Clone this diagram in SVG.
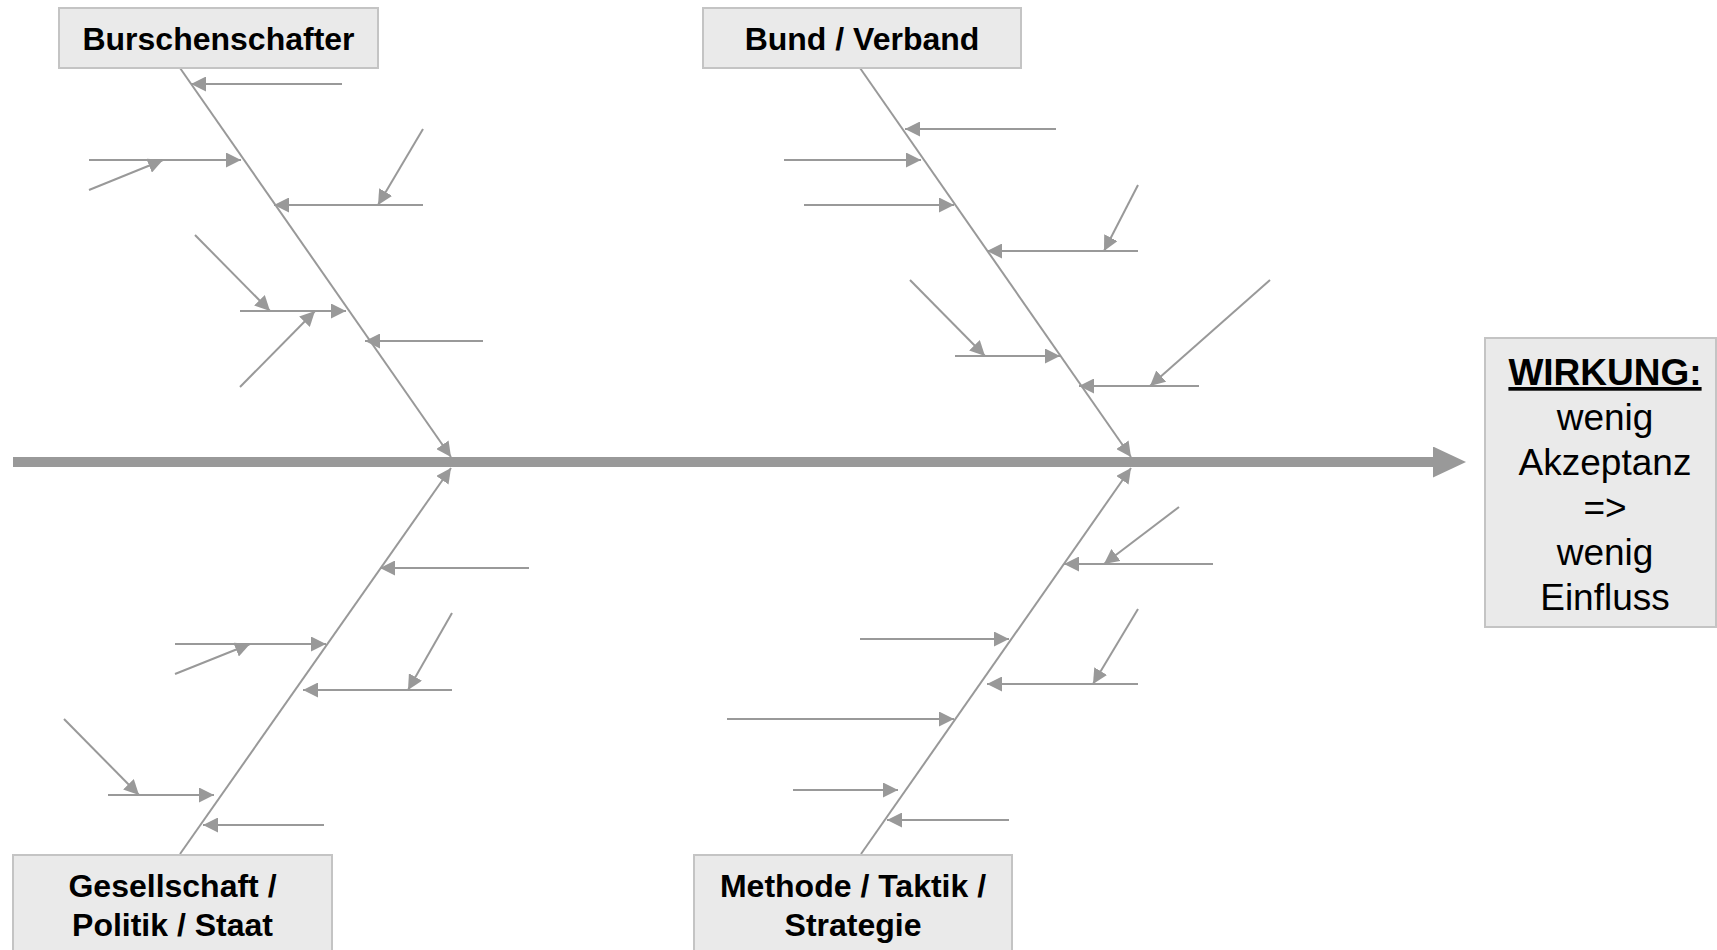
<svg xmlns="http://www.w3.org/2000/svg" width="1717" height="950" viewBox="0 0 1717 950">
  <defs>
    <marker id="ah" viewBox="0 0 15 15" markerWidth="15" markerHeight="15" refX="15" refY="7.5" orient="auto" markerUnits="userSpaceOnUse">
      <path d="M0,0 L15,7.5 L0,15 z" fill="#999999"/>
    </marker>
    <marker id="ah-big" viewBox="0 0 33 31" markerWidth="33" markerHeight="31" refX="7" refY="15.5" orient="auto" markerUnits="userSpaceOnUse">
      <path d="M0,0 L33,15.5 L0,31 z" fill="#999999"/>
    </marker>
    <style>
      .box { fill: #eaeaea; stroke: #c4c4c4; stroke-width: 2; }
      .cat { font-family: "Liberation Sans", Arial, sans-serif; font-weight: bold; font-size: 32px; fill: #000; text-anchor: middle; }
      .eff { font-family: "Liberation Sans", Arial, sans-serif; font-size: 37px; fill: #000; text-anchor: middle; }
      .eff-title { font-weight: bold; text-decoration: underline; }
      .spine { stroke: #999999; stroke-width: 10; fill: none; }
      .bone { stroke: #999999; stroke-width: 2; fill: none; marker-end: url(#ah); }
      .sub { stroke: #999999; stroke-width: 2; fill: none; marker-end: url(#ah); }
    </style>
  </defs>

  <rect width="1717" height="950" fill="#ffffff"/>

  <g id="connectors">
    <!-- main spine towards the effect -->
    <line class="spine" x1="13" y1="462" x2="1440" y2="462" marker-end="url(#ah-big)"/>

    <!-- category bones -->
    <line class="bone" x1="180" y1="68" x2="451" y2="457"/>
    <line class="bone" x1="860" y1="68" x2="1131" y2="457"/>
    <line class="bone" x1="180" y1="854" x2="451" y2="468"/>
    <line class="bone" x1="861" y1="854" x2="1131" y2="468"/>

    <!-- causes: Burschenschafter -->
    <line class="sub" x1="342" y1="84" x2="191" y2="84"/>
    <line class="sub" x1="89" y1="160" x2="241" y2="160"/>
    <line class="sub" x1="89" y1="190" x2="163" y2="160"/>
    <line class="sub" x1="423" y1="205" x2="274" y2="205"/>
    <line class="sub" x1="423" y1="129" x2="378" y2="205"/>
    <line class="sub" x1="240" y1="311" x2="346" y2="311"/>
    <line class="sub" x1="195" y1="235" x2="270" y2="311"/>
    <line class="sub" x1="240" y1="387" x2="315" y2="311"/>
    <line class="sub" x1="483" y1="341" x2="365" y2="341"/>

    <!-- causes: Bund / Verband -->
    <line class="sub" x1="1056" y1="129" x2="905" y2="129"/>
    <line class="sub" x1="784" y1="160" x2="921" y2="160"/>
    <line class="sub" x1="804" y1="205" x2="954" y2="205"/>
    <line class="sub" x1="1138" y1="251" x2="987" y2="251"/>
    <line class="sub" x1="1138" y1="185" x2="1104" y2="251"/>
    <line class="sub" x1="955" y1="356" x2="1060" y2="356"/>
    <line class="sub" x1="910" y1="280" x2="985" y2="356"/>
    <line class="sub" x1="1199" y1="386" x2="1079" y2="386"/>
    <line class="sub" x1="1270" y1="280" x2="1150" y2="386"/>

    <!-- causes: Gesellschaft / Politik / Staat -->
    <line class="sub" x1="529" y1="568" x2="380" y2="568"/>
    <line class="sub" x1="175" y1="644" x2="326" y2="644"/>
    <line class="sub" x1="175" y1="674" x2="250" y2="644"/>
    <line class="sub" x1="452" y1="690" x2="303" y2="690"/>
    <line class="sub" x1="452" y1="613" x2="408" y2="690"/>
    <line class="sub" x1="108" y1="795" x2="214" y2="795"/>
    <line class="sub" x1="64" y1="719" x2="139" y2="795"/>
    <line class="sub" x1="324" y1="825" x2="203" y2="825"/>

    <!-- causes: Methode / Taktik / Strategie -->
    <line class="sub" x1="1213" y1="564" x2="1064" y2="564"/>
    <line class="sub" x1="1179" y1="507" x2="1104" y2="564"/>
    <line class="sub" x1="860" y1="639" x2="1009" y2="639"/>
    <line class="sub" x1="1138" y1="684" x2="987" y2="684"/>
    <line class="sub" x1="1138" y1="609" x2="1093" y2="684"/>
    <line class="sub" x1="727" y1="719" x2="954" y2="719"/>
    <line class="sub" x1="793" y1="790" x2="898" y2="790"/>
    <line class="sub" x1="1009" y1="820" x2="887" y2="820"/>
  </g>

  <g id="node-burschenschafter">
    <rect class="box" x="59" y="8" width="319" height="60"/>
    <text class="cat" x="218.5" y="50">Burschenschafter</text>
  </g>

  <g id="node-bund">
    <rect class="box" x="703" y="8" width="318" height="60"/>
    <text class="cat" x="862" y="50">Bund / Verband</text>
  </g>

  <g id="node-gesellschaft">
    <rect class="box" x="13" y="855" width="319" height="110"/>
    <text class="cat" x="172.5" y="897">Gesellschaft /</text>
    <text class="cat" x="172.5" y="936">Politik / Staat</text>
  </g>

  <g id="node-methode">
    <rect class="box" x="694" y="855" width="318" height="110"/>
    <text class="cat" x="853" y="897">Methode / Taktik /</text>
    <text class="cat" x="853" y="936">Strategie</text>
  </g>

  <g id="node-wirkung">
    <rect class="box" x="1485" y="338" width="231" height="289"/>
    <text class="eff eff-title" x="1605" y="385">WIRKUNG:</text>
    <text class="eff" x="1605" y="430">wenig</text>
    <text class="eff" x="1605" y="475">Akzeptanz</text>
    <text class="eff" x="1605" y="520">=&gt;</text>
    <text class="eff" x="1605" y="565">wenig</text>
    <text class="eff" x="1605" y="610">Einfluss</text>
  </g>
</svg>
